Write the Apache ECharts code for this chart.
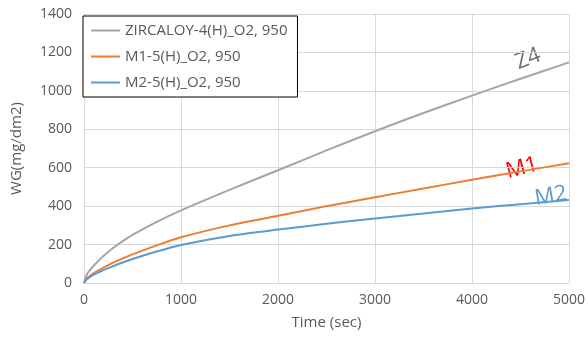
<!DOCTYPE html>
<html>
<head>
<meta charset="utf-8">
<script src="https://cdn.jsdelivr.net/npm/echarts@6/dist/echarts.min.js"></script>
<style>
  html, body { margin: 0; padding: 0; background: #fff; }
  #chart { width: 588px; height: 340px; }
</style>
</head>
<body>
<div id="chart"></div>
<script>
// time points (sec)
var timeSec = [0, 25, 50, 100, 150, 200, 300, 400, 500, 750, 1000, 1500, 2000, 2500, 3000, 3500, 4000, 4500, 5000]
// weight gain (mg/dm2)
var z4 = [0, 40, 60, 90, 116, 140, 182, 218, 250, 318, 378, 485, 587, 690, 790, 885, 975, 1063, 1148]
var m1 = [0, 22, 33, 52, 66, 80, 106, 128, 149, 196, 238, 300, 350, 400, 446, 492, 537, 581, 623]
var m2 = [0, 18, 27, 43, 55, 67, 88, 107, 125, 164, 198, 245, 278, 308, 336, 362, 388, 410, 432]
var seriesNames = ['ZIRCALOY-4(H)_O2, 950', 'M1-5(H)_O2, 950', 'M2-5(H)_O2, 950']

function pairs(ys) {
  return timeSec.map(function (t, i) { return [t, ys[i]] })
}

var font = 'Open Sans'
var textColor = '#595959'
var gridColor = '#d9d9d9'

var chart = echarts.init(document.getElementById('chart'))
chart.setOption({
  animation: false,
  textStyle: { fontFamily: font },
  grid: { left: 84, right: 16, top: 14, bottom: 57 },
  legend: {
    orient: 'vertical',
    left: 83,
    top: 16,
    icon: 'rect',
    itemWidth: 29,
    itemHeight: 2,
    itemGap: 9,
    padding: [6, 10, 6, 8],
    backgroundColor: '#fff',
    borderColor: '#000',
    borderWidth: 1,
    textStyle: { color: textColor, fontSize: 15, lineHeight: 17, fontFamily: font },
    data: seriesNames
  },
  xAxis: {
    type: 'value',
    min: 0,
    max: 5000,
    interval: 1000,
    name: 'Time (sec)',
    nameLocation: 'middle',
    nameGap: 32,
    nameTextStyle: { color: textColor, fontSize: 15, fontFamily: font },
    axisLine: { lineStyle: { color: gridColor } },
    axisTick: { show: false },
    axisLabel: { color: textColor, fontSize: 14, margin: 10, formatter: function (v) { return String(v) } },
    splitLine: { lineStyle: { color: gridColor } }
  },
  yAxis: {
    type: 'value',
    min: 0,
    max: 1400,
    interval: 200,
    name: 'WG(mg/dm2)',
    nameLocation: 'middle',
    nameGap: 60,
    nameTextStyle: { color: textColor, fontSize: 15, fontFamily: font },
    axisLine: { show: false },
    axisTick: { show: false },
    axisLabel: { color: textColor, fontSize: 14, margin: 12, formatter: function (v) { return String(v) } },
    splitLine: { lineStyle: { color: gridColor } }
  },
  series: [
    { name: seriesNames[0], type: 'line', data: pairs(z4), smooth: 0.25, showSymbol: false,
      color: '#a5a5a5', lineStyle: { width: 2 } },
    { name: seriesNames[1], type: 'line', data: pairs(m1), smooth: 0.25, showSymbol: false,
      color: '#ed7d31', lineStyle: { width: 2 } },
    { name: seriesNames[2], type: 'line', data: pairs(m2), smooth: 0.25, showSymbol: false,
      color: '#5b9bd5', lineStyle: { width: 2 } }
  ],
  graphic: [
    { type: 'text', x: 528, y: 59, rotation: 0.36,
      style: { text: 'Z4', fill: '#6f6f6f', font: '22px "Open Sans"', align: 'center', verticalAlign: 'middle' } },
    { type: 'text', x: 522, y: 168, rotation: 0.26,
      style: { text: 'M1', fill: '#ff0000', font: '22px "Open Sans"', align: 'center', verticalAlign: 'middle' } },
    { type: 'text', x: 551, y: 196, rotation: 0.17,
      style: { text: 'M2', fill: '#5b9bd5', font: '22px "Open Sans"', align: 'center', verticalAlign: 'middle' } }
  ]
})
</script>
</body>
</html>
